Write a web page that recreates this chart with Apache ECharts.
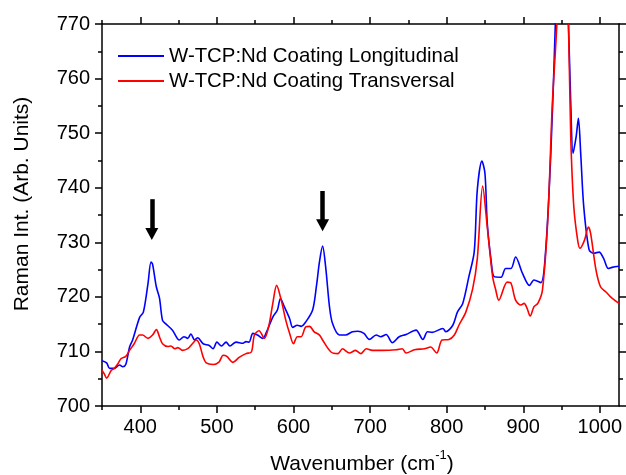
<!DOCTYPE html>
<html>
<head>
<meta charset="utf-8">
<script src="https://cdn.jsdelivr.net/npm/echarts@6/dist/echarts.min.js"></script>
<style>
html,body{margin:0;padding:0;background:#fff;}
#chart{width:626px;height:475px;}
</style>
</head>
<body>
<div id="chart"></div>
<script>
// ---- data ----
const blueName = 'W-TCP:Nd Coating Longitudinal';
const redName = 'W-TCP:Nd Coating Transversal';

const blueX = [350,356,360,366,373,377,381,386,390,399,404,410,414,416,421,425,429,433,442,451,457,462,466,471,475,482,490,495,500,506,512,517,525,534,538,542,547,553,560,564,573,579,583,588,595,599,605,610,616,625,630,634,638,642,647,651,660,668,677,684,692,699,708,714,721,729,738,747,760,769,775,781,795,799,808,814,821,829,836,840,846,850,853,858,862,871,877,884,890,899,908,914,923,929,936,942,948,953,959,962,965,969,972,975,979,986,992,999,1005,1011,1016,1025];
const blueY = [708.3,707.9,706.9,706.9,707.5,707.2,707.6,710.8,712.1,716.2,717.2,722.4,726.4,726.0,721.8,719.8,715.7,715.1,713.9,712.1,712.7,712.4,713.2,712.1,712.5,711.4,711.1,710.5,711.7,711.0,711.7,711.0,711.7,711.5,711.8,711.7,713.3,713.0,712.4,713.3,716.3,717.6,719.7,718.2,716.0,714.4,714.8,714.6,715.4,717.6,722.0,726.5,729.3,725.5,718.2,715.1,713.0,713.0,713.6,713.7,713.3,712.2,713.0,712.7,713.1,711.6,712.7,713.1,713.9,712.2,713.6,713.5,714.2,713.6,714.8,717.2,718.8,723.7,728.3,739.6,744.9,742.6,733.5,726.7,723.7,723.6,725.2,725.2,727.3,724.3,722.1,723.1,722.6,728.0,746.3,770.5,800,790,770,755.5,746.3,749.3,752.7,746.3,736.5,728.6,728.0,728.2,727.0,725.2,725.4,725.6];

const redX = [350,353,356,362,366,371,375,381,386,392,399,403,410,416,421,425,429,436,440,445,449,455,462,468,473,477,482,486,495,503,508,513,521,529,538,545,549,555,562,568,573,578,584,590,595,600,605,610,616,621,627,634,638,649,658,664,673,681,688,695,703,716,734,742,747,758,771,779,787,794,803,810,816,825,834,840,847,853,860,864,868,879,884,890,897,901,905,909,914,919,925,932,938,944,949,954,959,962,966,971,974,980,985,988,995,1001,1008,1014,1025];
const redY = [706.5,705.9,705.1,706.5,706.9,707.8,708.7,709.1,710.2,711.4,713.0,713.0,712.4,713.0,714.0,712.7,711.4,710.9,711.0,710.5,710.7,710.2,710.5,711.4,712.1,711.4,709.0,707.9,707.6,708.1,709.3,709.1,708.0,708.9,709.6,709.9,713.0,713.8,712.4,714.8,718.8,722.1,719.4,715.7,713.3,711.4,712.7,712.7,714.5,714.6,713.6,713.0,712.1,709.9,709.6,710.5,709.7,710.2,709.6,710.5,710.2,710.2,710.3,710.5,709.7,710.3,710.5,710.8,709.7,712.1,712.2,713.0,714.8,717.2,721.5,727.0,740.3,732.8,723.7,721.3,719.4,722.7,722.5,719.4,718.5,718.8,717.9,716.5,718.2,718.8,721.2,734.1,755.5,770.5,795,790,770,749.3,736.5,730.4,728.9,730.4,732.8,731.6,724.9,721.8,720.9,720.0,718.8];

// arrows: [wavenumber, start intensity, end intensity]
const arrows = [[415, 737.9, 731.5], [638, 739.4, 733.1]];

const xMajorTicks = [400,500,600,700,800,900,1000];
const xMinorTicks = [350,450,550,650,750,850,950];
const xRange = [350, 1025];
const yRange = [700, 770];
const yStep = 10;

// ---- chart ----
const FONT = '"Liberation Sans", Arial, sans-serif';
const zip = (xs, ys) => xs.map((x, i) => [x, ys[i]]);
const lineAxis = {show: true, lineStyle: {color: '#000', width: 1.5}};
const tickStyle = {color: '#000', width: 1.5};
const plain = v => String(v);

const chart = echarts.init(document.getElementById('chart'), null, {renderer: 'canvas'});
const option = {
  animation: false,
  backgroundColor: '#fff',
  textStyle: {fontFamily: FONT},
  grid: {left: 102, right: 7, top: 24, bottom: 69, containLabel: false},
  xAxis: [
    {type: 'value', position: 'bottom', min: xRange[0], max: xRange[1],
     axisLine: lineAxis,
     axisTick: {show: true, customValues: xMajorTicks, length: 7, lineStyle: tickStyle},
     axisLabel: {show: true, customValues: xMajorTicks, formatter: plain, fontSize: 20, color: '#000', fontFamily: FONT, margin: 11},
     splitLine: {show: false}},
    {type: 'value', position: 'bottom', min: xRange[0], max: xRange[1], gridIndex: 0,
     axisLine: {show: false},
     axisTick: {show: true, customValues: xMinorTicks, length: 4, lineStyle: tickStyle},
     axisLabel: {show: false}, splitLine: {show: false}},
    {type: 'value', position: 'top', min: xRange[0], max: xRange[1],
     axisLine: lineAxis,
     axisTick: {show: true, customValues: xMajorTicks, length: 7, lineStyle: tickStyle},
     axisLabel: {show: false}, splitLine: {show: false}},
    {type: 'value', position: 'top', min: xRange[0], max: xRange[1],
     axisLine: {show: false},
     axisTick: {show: true, customValues: xMinorTicks, length: 4, lineStyle: tickStyle},
     axisLabel: {show: false}, splitLine: {show: false}}
  ],
  yAxis: [
    {type: 'value', position: 'left', min: yRange[0], max: yRange[1], interval: yStep,
     axisLine: lineAxis,
     axisTick: {show: true, length: 7, lineStyle: tickStyle},
     minorTick: {show: true, splitNumber: 2, length: 4, lineStyle: tickStyle},
     axisLabel: {fontSize: 20, color: '#000', fontFamily: FONT, margin: 12, formatter: plain},
     splitLine: {show: false}, minorSplitLine: {show: false}},
    {type: 'value', position: 'right', min: yRange[0], max: yRange[1], interval: yStep,
     axisLine: lineAxis,
     axisTick: {show: true, length: 7, lineStyle: tickStyle},
     minorTick: {show: true, splitNumber: 2, length: 4, lineStyle: tickStyle},
     axisLabel: {show: false},
     splitLine: {show: false}, minorSplitLine: {show: false}}
  ],
  legend: {
    orient: 'vertical', left: 118, top: 46, itemGap: 5, padding: 0,
    icon: 'rect', itemWidth: 46, itemHeight: 2,
    textStyle: {fontSize: 20.4, color: '#000', fontFamily: FONT},
    data: [blueName, redName]
  },
  series: [
    {name: blueName, type: 'line', data: zip(blueX, blueY), xAxisIndex: 0, yAxisIndex: 0,
     symbol: 'none', showSymbol: false, clip: true, smooth: 0.3,
     lineStyle: {color: '#0000ff', width: 1.6}, itemStyle: {color: '#0000ff'}},
    {name: redName, type: 'line', data: zip(redX, redY), xAxisIndex: 0, yAxisIndex: 0,
     symbol: 'none', showSymbol: false, clip: true, smooth: 0.3,
     lineStyle: {color: '#ff0000', width: 1.6}, itemStyle: {color: '#ff0000'},
     markLine: {
       silent: true, symbol: ['none', 'triangle'], symbolSize: [13, 12],
       label: {show: false},
       lineStyle: {color: '#000', width: 4.5, type: 'solid'},
       emphasis: {disabled: true},
       data: arrows.map(a => [{coord: [a[0], a[1]]}, {coord: [a[0], a[2]]}])
     }}
  ],
  graphic: [
    {type: 'text', x: 22, y: 204, rotation: Math.PI / 2,
     style: {text: 'Raman Int. (Arb. Units)', fontSize: 21, fontFamily: FONT, fill: '#000',
             align: 'center', verticalAlign: 'middle'}},
    {type: 'text', x: 362, y: 462,
     style: {text: '{a|Wavenumber (cm}{b|-1}{a|)}', align: 'center', verticalAlign: 'middle',
             rich: {a: {fontSize: 21, fontFamily: FONT, fill: '#000', lineHeight: 26, verticalAlign: 'bottom'},
                    b: {fontSize: 13, fontFamily: FONT, fill: '#000', lineHeight: 26, verticalAlign: 'top'}}}}
  ]
};
chart.setOption(option);
</script>
</body>
</html>
